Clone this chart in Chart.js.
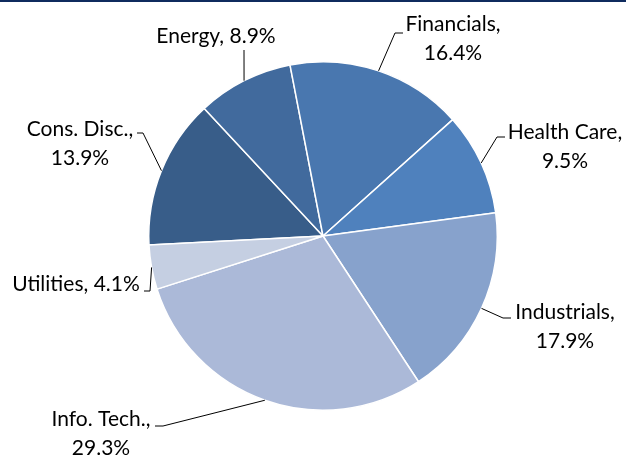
<!DOCTYPE html>
<html>
<head>
<meta charset="utf-8">
<script src="https://cdn.jsdelivr.net/npm/chart.js@4"></script>
<style>
  body { margin: 0; background: #fff; }
  #wrap { width: 626px; height: 455px; position: relative; }
</style>
</head>
<body>
<div id="wrap"><canvas id="sectorPie"></canvas></div>
<script>
// sector weights (%), clockwise from Cons. Disc.
const sectors = ["Cons. Disc.", "Energy", "Financials", "Health Care", "Industrials", "Info. Tech.", "Utilities"];
const weights = [13.9, 8.9, 16.4, 9.5, 17.9, 29.3, 4.1];
const sliceColors = ['#385d89', '#416a9d', '#4977af', '#4f81bd', '#87a2cc', '#abb9d8', '#c5cfe2'];

// label text lines
const labelLines = [
  ["Cons. Disc.,", "13.9%"],
  ["Energy, 8.9%"],
  ["Financials,", "16.4%"],
  ["Health Care,", "9.5%"],
  ["Industrials,", "17.9%"],
  ["Info. Tech.,", "29.3%"],
  ["Utilities, 4.1%"]
];

// where each label goes: text center x, first baseline y, elbow and end of the leader line
const labelPlace = [
  { cx: 80,  by: 136, elbow: [143, 133], end: [137, 133] },
  { cx: 216, by: 43,  elbow: [244, 50],  end: null },
  { cx: 453, by: 31,  elbow: [395, 33],  end: [403, 33] },
  { cx: 565, by: 139, elbow: [497, 137], end: [505, 137] },
  { cx: 565, by: 319, elbow: [503, 318], end: [511, 318] },
  { cx: 101, by: 426, elbow: [163, 426], end: [155, 426] },
  { cx: 76,  by: 291, elbow: [150, 291], end: [144, 291] }
];

const labelFont = '21px Lato';

const leaderPlugin = {
  id: 'leaders',
  beforeDraw(chart) {
    const ctx = chart.ctx;
    ctx.save();
    ctx.fillStyle = '#0f2b5e';
    ctx.fillRect(0, 0, chart.width, 2);
    ctx.restore();
  },
  afterDatasetsDraw(chart) {
    const ctx = chart.ctx;
    const meta = chart.getDatasetMeta(0);
    ctx.save();
    meta.data.forEach((arc, i) => {
      const p = arc.getProps(['x', 'y', 'startAngle', 'endAngle', 'outerRadius'], true);
      const mid = (p.startAngle + p.endAngle) / 2;
      const ex = p.x + Math.cos(mid) * p.outerRadius;
      const ey = p.y + Math.sin(mid) * p.outerRadius;
      const lp = labelPlace[i];
      ctx.strokeStyle = '#000';
      ctx.lineWidth = 1;
      ctx.beginPath();
      ctx.moveTo(ex, ey);
      ctx.lineTo(lp.elbow[0], lp.elbow[1]);
      if (lp.end) ctx.lineTo(lp.end[0], lp.end[1]);
      ctx.stroke();

      ctx.fillStyle = '#000';
      ctx.font = labelFont;
      ctx.textAlign = 'center';
      ctx.textBaseline = 'alphabetic';
      labelLines[i].forEach((t, k) => {
        ctx.fillText(t, lp.cx, lp.by + k * 29);
      });
    });
    ctx.restore();
  }
};

new Chart(document.getElementById('sectorPie'), {
  type: 'pie',
  data: {
    labels: sectors,
    datasets: [{
      data: weights,
      backgroundColor: sliceColors,
      borderColor: '#ffffff',
      borderWidth: 1.5
    }]
  },
  options: {
    responsive: true,
    maintainAspectRatio: false,
    animation: false,
    rotation: -93,
    layout: { padding: { left: 148, right: 128, top: 61, bottom: 44 } },
    plugins: {
      legend: { display: false },
      tooltip: { enabled: false }
    }
  },
  plugins: [leaderPlugin]
});
</script>
</body>
</html>
